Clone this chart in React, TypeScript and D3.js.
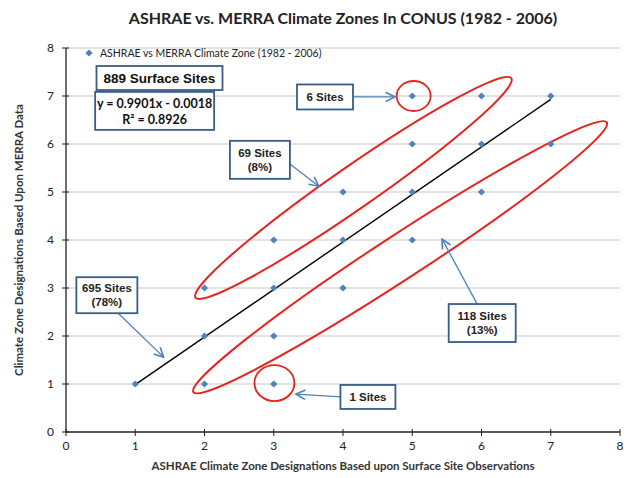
import * as d3 from "d3"

// scatter points (ASHRAE zone, MERRA zone)
const ashraeZones = [1, 2, 2, 2, 3, 3, 3, 3, 4, 4, 4, 5, 5, 5, 5, 6, 6, 6, 7, 7]
const merraZones = [1, 1, 2, 3, 1, 2, 3, 4, 3, 4, 5, 4, 5, 6, 7, 5, 6, 7, 6, 7]
const fitSlope = 0.9901
const fitIntercept = -0.0018
const fitRange = [1, 7]
const xTicks = [0, 1, 2, 3, 4, 5, 6, 7, 8]
const yTicks = [0, 1, 2, 3, 4, 5, 6, 7, 8]

const title = "ASHRAE vs. MERRA Climate Zones In CONUS (1982 - 2006)"
const xLabel = "ASHRAE  Climate Zone Designations Based upon Surface Site Observations"
const yLabel = "Climate Zone Designations Based Upon MERRA Data"
const legendLabel = "ASHRAE vs MERRA Climate Zone (1982 - 2006)"

// callouts: box center in data units, text lines, arrow from/to in data units
const callouts = [
    { cx: 3.74, cy: 6.98, w: 56, h: 25, lines: ["6 Sites"], from: [4.14, 6.98], to: [4.75, 6.98] },
    { cx: 2.8, cy: 5.67, w: 60, h: 38, lines: ["69 Sites", "(8%)"], from: [3.22, 5.6], to: [3.65, 5.12] },
    { cx: 0.59, cy: 2.85, w: 61, h: 36, lines: ["695 Sites", "(78%)"], from: [0.75, 2.48], to: [1.41, 1.56] },
    { cx: 6.01, cy: 2.27, w: 67, h: 38, lines: ["118 Sites", "(13%)"], from: [5.94, 2.66], to: [5.43, 4.02] },
    { cx: 4.36, cy: 0.73, w: 55, h: 24, lines: ["1 Sites"], from: [3.97, 0.73], to: [3.32, 0.79] },
]

// red ellipses, tips in data units, half minor axis in px
const bands = [
    { a: [1.87, 2.8], b: [6.43, 7.37], half: 21 },
    { a: [1.84, 0.83], b: [7.81, 6.45], half: 22 },
]
const rings = [
    { x: 5.02, y: 7.0, rx: 17, ry: 15 },
    { x: 3.01, y: 1.02, rx: 20, ry: 18 },
]

const W = 628
const H = 478
const margin = { top: 48, right: 8, bottom: 46, left: 66 }

export default function App() {
    const x = d3.scaleLinear().domain([0, 8]).range([margin.left, W - margin.right])
    const y = d3.scaleLinear().domain([0, 8]).range([H - margin.bottom, margin.top])
    const font = "Lato, 'Open Sans', sans-serif"
    const arial = "'Liberation Sans', Arial, sans-serif"
    const blue = "#4F81BD"
    const boxBlue = "#385D8A"

    // excel style diamond: a square turned 45 degrees
    const diamond = d3.symbol().type(d3.symbolSquare).size(26)()

    return (
        <svg width={W} height={H} style={{ position: "absolute", left: 0, top: 0, background: "#fff" }}>
            <defs>
                <marker id="arr" viewBox="0 0 10 10" refX="9" refY="5" markerWidth="9" markerHeight="9" orient="auto">
                    <path d="M1,1 L9,5 L1,9" fill="none" stroke={blue} strokeWidth={1.4} />
                </marker>
            </defs>
            <text x={343} y={24} textAnchor="middle" fontFamily={font} fontWeight="bold" fontSize={16} fill="#222">{title}</text>

            {/* grid */}
            {yTicks.filter((t) => t > 0).map((t) => (
                <line key={"g" + t} x1={x(0)} x2={x(8)} y1={y(t)} y2={y(t)} stroke="#c8c8c8" strokeWidth={1} />
            ))}

            {/* axes */}
            <line x1={x(0)} x2={x(8)} y1={y(0)} y2={y(0)} stroke="#222" strokeWidth={1.3} />
            <line x1={x(0)} x2={x(0)} y1={y(0)} y2={y(8)} stroke="#222" strokeWidth={1.3} />
            {xTicks.map((t) => (
                <g key={"x" + t}>
                    <line x1={x(t)} x2={x(t)} y1={y(0) - 3} y2={y(0) + 4} stroke="#222" />
                    <text x={x(t)} y={y(0) + 18} textAnchor="middle" fontFamily={font} fontSize={12} fill="#222">{t}</text>
                </g>
            ))}
            {yTicks.map((t) => (
                <g key={"y" + t}>
                    <line x1={x(0) - 4} x2={x(0) + 3} y1={y(t)} y2={y(t)} stroke="#222" />
                    <text x={x(0) - 12} y={y(t) + 4} textAnchor="end" fontFamily={font} fontSize={12} fill="#222">{t}</text>
                </g>
            ))}
            <text x={343} y={470} textAnchor="middle" fontFamily={font} fontWeight="bold" fontSize={11.5} fill="#333">{xLabel}</text>
            <text transform={`translate(23,${y(4)}) rotate(-90)`} textAnchor="middle" fontFamily={font} fontWeight="bold" fontSize={11.5} fill="#333">{yLabel}</text>

            {/* legend */}
            <path d={diamond} transform={`translate(89,53) rotate(45)`} fill={blue} />
            <text x={100} y={57} fontFamily={font} fontSize={10.5} fill="#222">{legendLabel}</text>

            {/* trend line */}
            <line x1={x(fitRange[0])} x2={x(fitRange[1])}
                y1={y(fitSlope * fitRange[0] + fitIntercept)} y2={y(fitSlope * fitRange[1] + fitIntercept)}
                stroke="#000" strokeWidth={1.4} />

            {/* red ellipses */}
            {bands.map((b, i) => {
                const x1 = x(b.a[0]), y1 = y(b.a[1]), x2 = x(b.b[0]), y2 = y(b.b[1])
                const cx = (x1 + x2) / 2, cy = (y1 + y2) / 2
                const rx = Math.hypot(x2 - x1, y2 - y1) / 2
                const ang = (Math.atan2(y2 - y1, x2 - x1) * 180) / Math.PI
                return <ellipse key={"b" + i} cx={cx} cy={cy} rx={rx} ry={b.half} transform={`rotate(${ang},${cx},${cy})`}
                    fill="none" stroke="#E8231E" strokeWidth={2} />
            })}
            {rings.map((r, i) => (
                <ellipse key={"r" + i} cx={x(r.x)} cy={y(r.y)} rx={r.rx} ry={r.ry} fill="none" stroke="#E8231E" strokeWidth={1.8} />
            ))}

            {/* points */}
            {ashraeZones.map((a, i) => (
                <path key={"p" + i} d={diamond} transform={`translate(${x(a)},${y(merraZones[i])}) rotate(45)`} fill={blue} />
            ))}

            {/* stats boxes */}
            <rect x={x(1.35) - 63} y={y(7.375) - 12} width={126} height={24} fill="#fff" stroke={boxBlue} strokeWidth={1.8} />
            <text x={x(1.35)} y={y(7.375) + 5} textAnchor="middle" fontFamily={arial} fontWeight="bold" fontSize={13.5} fill="#111">889 Surface Sites</text>
            <rect x={x(1.28) - 59.5} y={y(6.69) - 19} width={119} height={38} fill="#fff" stroke={boxBlue} strokeWidth={1.8} />
            <text x={x(1.28)} y={y(6.69) - 3} textAnchor="middle" fontFamily={font} fontWeight="bold" fontSize={12.5} fill="#111">{`y = ${fitSlope}x - ${Math.abs(fitIntercept)}`}</text>
            <text x={x(1.28)} y={y(6.69) + 13} textAnchor="middle" fontFamily={font} fontWeight="bold" fontSize={12.5} fill="#111">R² = 0.8926</text>

            {/* callouts */}
            {callouts.map((c, i) => {
                const bx = x(c.cx), by = y(c.cy)
                const n = c.lines.length
                return (
                    <g key={"c" + i}>
                        <line x1={x(c.from[0])} y1={y(c.from[1])} x2={x(c.to[0])} y2={y(c.to[1])} stroke={blue} strokeWidth={1.3} markerEnd="url(#arr)" />
                        <rect x={bx - c.w / 2} y={by - c.h / 2} width={c.w} height={c.h} fill="#fff" stroke={boxBlue} strokeWidth={1.8} />
                        {c.lines.map((l, j) => (
                            <text key={j} x={bx} y={by + 4 + (j - (n - 1) / 2) * 14} textAnchor="middle"
                                fontFamily={arial} fontWeight="bold" fontSize={11.5} fill="#222">{l}</text>
                        ))}
                    </g>
                )
            })}
        </svg>
    )
}
